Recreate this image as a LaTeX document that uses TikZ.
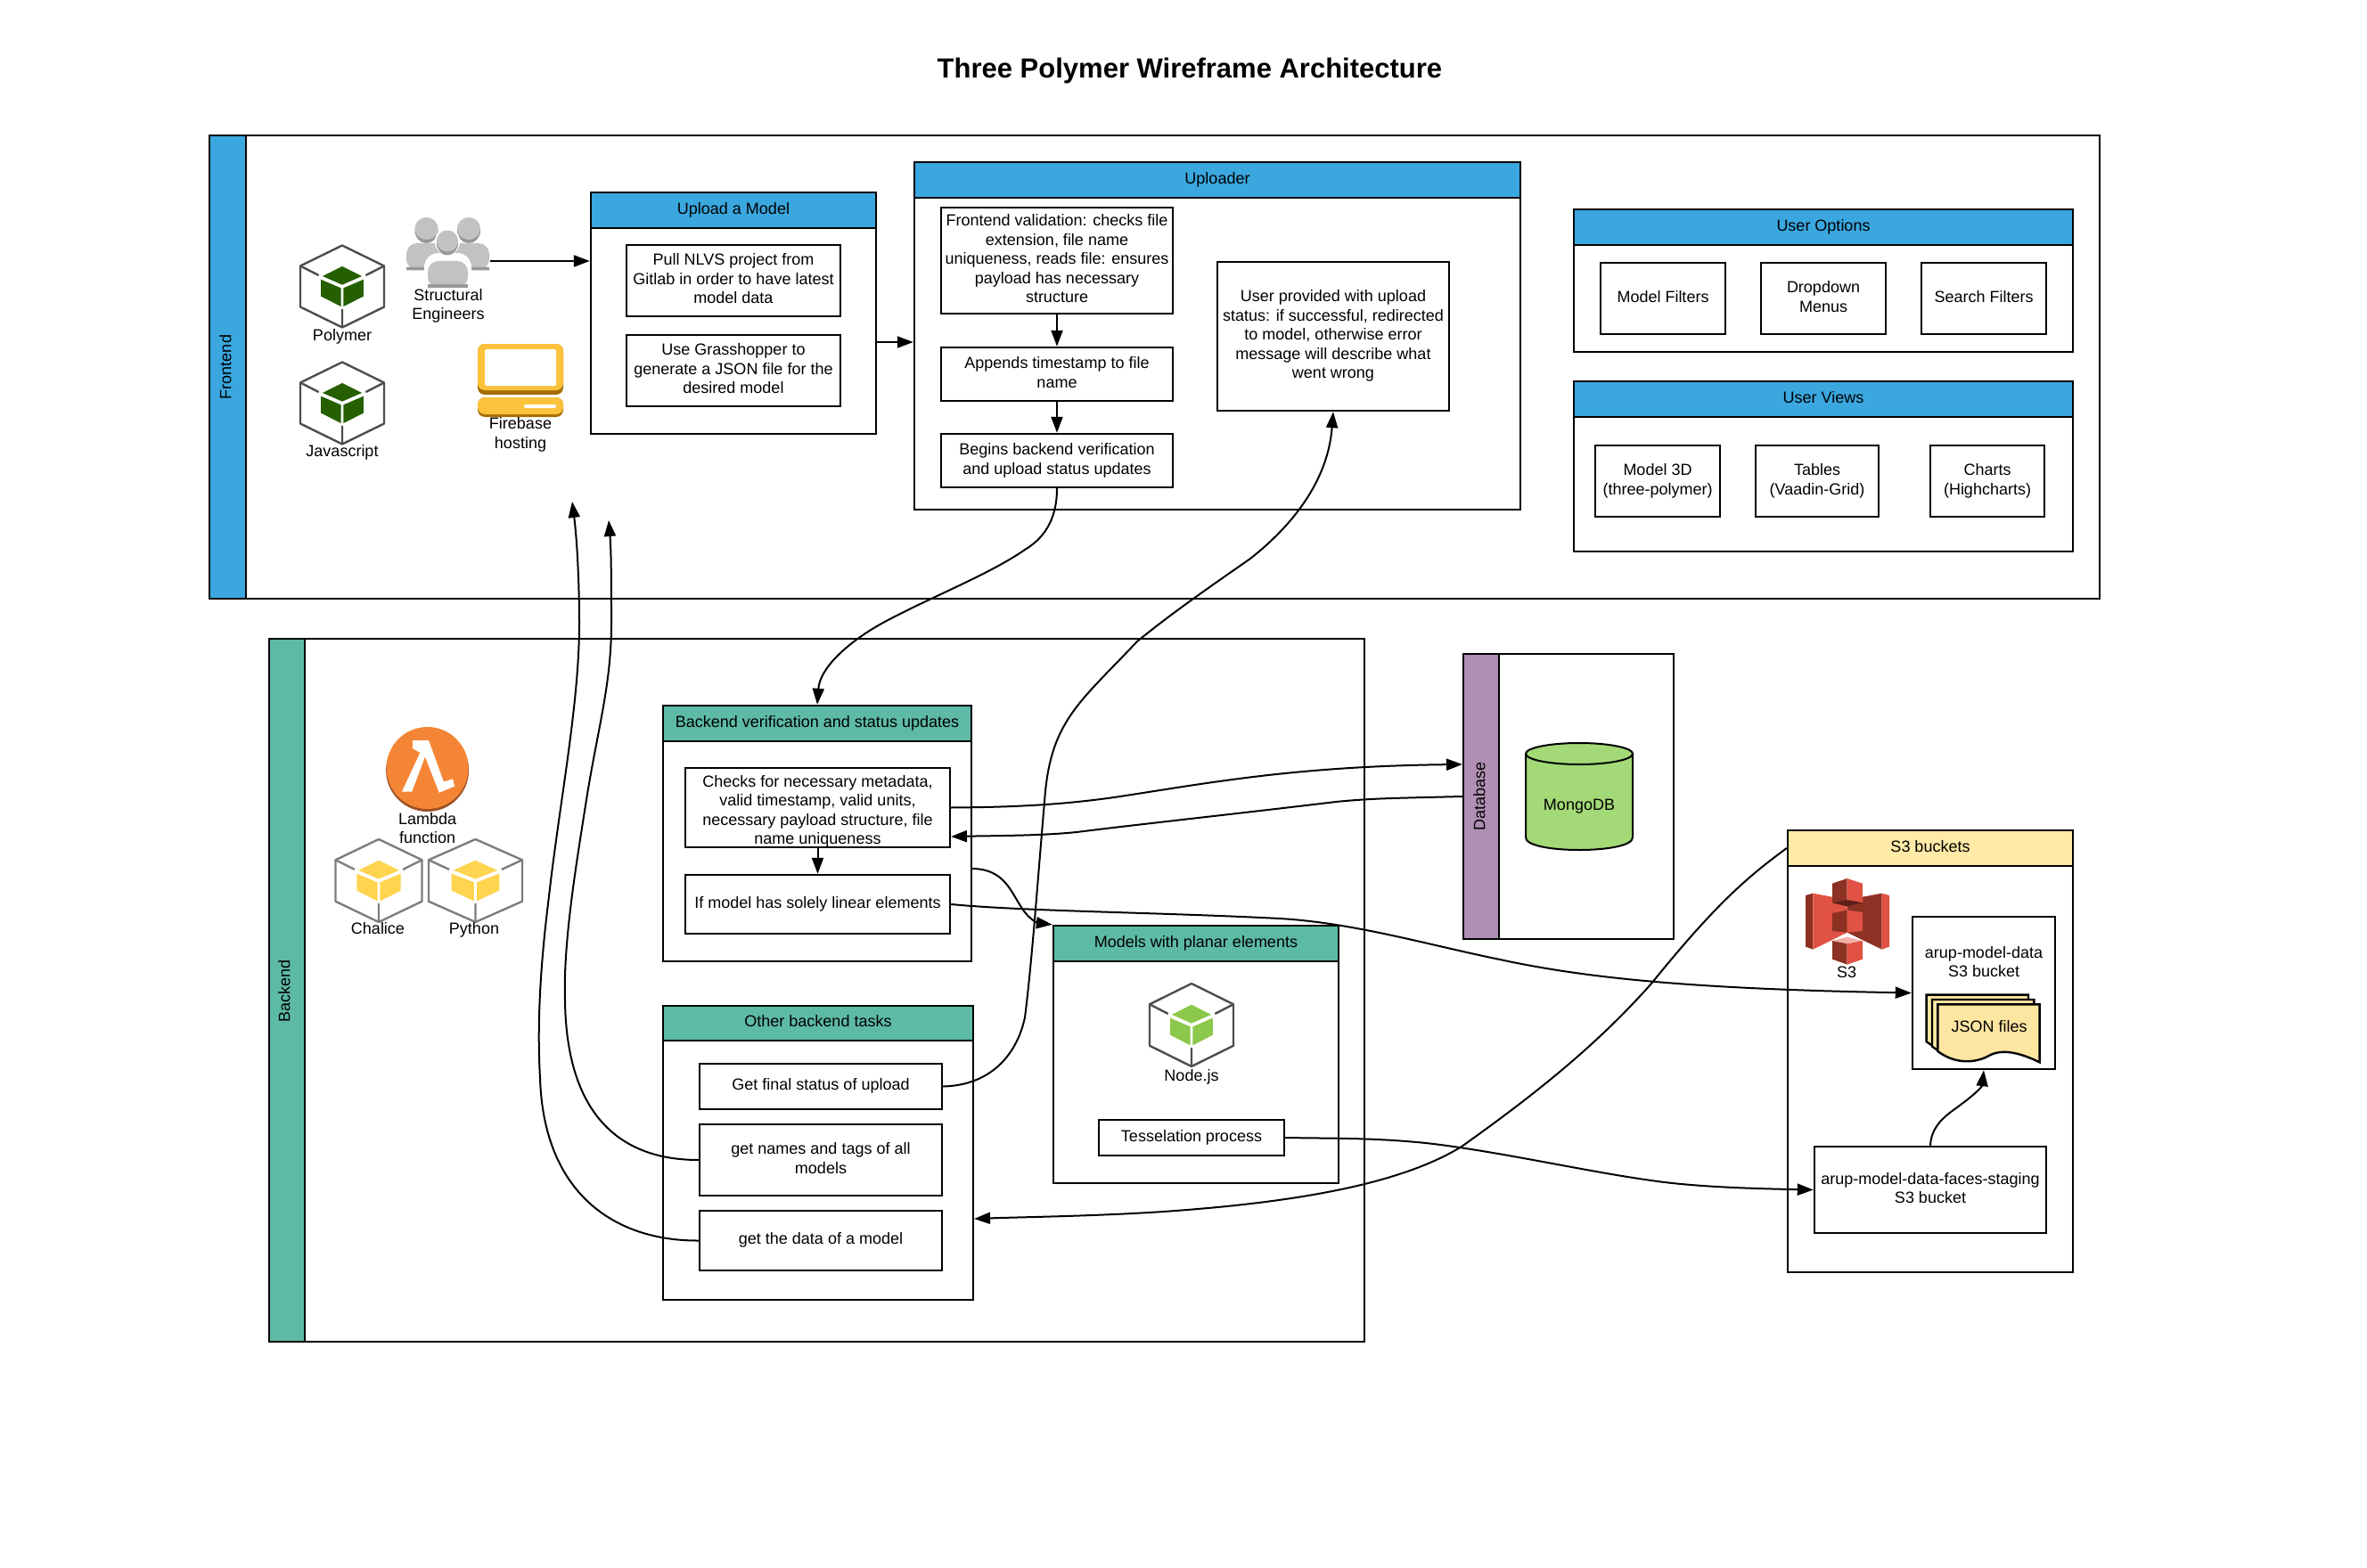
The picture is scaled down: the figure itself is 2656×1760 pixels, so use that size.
\documentclass[tikz,border=0pt]{standalone}
\usepackage{fontspec}
\setmainfont{Liberation Sans}
\usetikzlibrary{arrows.meta}

\definecolor{frontblue}{HTML}{3AA7DF}
\definecolor{backteal}{HTML}{5DBAA6}
\definecolor{dbpurple}{HTML}{B18FB4}
\definecolor{s3yellow}{HTML}{FFEAA7}
\definecolor{jsonyellow}{HTML}{FDE6A2}
\definecolor{mongogreen}{HTML}{A3D977}
\definecolor{polygreen}{HTML}{255F00}
\definecolor{cubeyellow}{HTML}{FFD44F}
\definecolor{nodegreen}{HTML}{8CC84B}
\definecolor{hexdark}{HTML}{4D4D4D}
\definecolor{hexgrey}{HTML}{7D7D7D}
\definecolor{userfill}{HTML}{C0C2C4}
\definecolor{usershade}{HTML}{96989A}
\definecolor{fbyellow}{HTML}{FDC23C}
\definecolor{fbdark}{HTML}{A66E00}
\definecolor{lambdaorange}{HTML}{F58536}
\definecolor{lambdadark}{HTML}{9D5025}
\definecolor{s3red}{HTML}{E05243}
\definecolor{s3dark}{HTML}{8C3123}
\definecolor{s3pale}{HTML}{F2B0A9}
\definecolor{s3deep}{HTML}{5E1F18}

\tikzset{
  textfont/.style={font=\fontsize{9}{10.75}\selectfont},
  panel/.style={draw, line width=1.2pt, inner sep=0pt},
  header/.style={panel, textfont, align=center, text depth=2.2pt},
  strip/.style={panel, textfont},
  box/.style={panel, textfont, align=center, fill=white, text depth=2.2pt},
  caption/.style={textfont, align=center, inner sep=0pt, text depth=2pt},
  link/.style={line width=1pt, -{Triangle[length=9pt,width=6.5pt]}}
}

% cube in a hexagon: x, y, half width, half height, line colour, fill colour
\newcommand{\hexcube}[6]{
  \begin{scope}[shift={(#1,#2)},xscale=#3,yscale=#4]
    \draw[#5, line width=1.2pt, line join=round] (0,-1) -- (1,-.5) -- (1,.5) -- (0,1) -- (-1,.5) -- (-1,-.5) -- cycle;
    \draw[#5, line width=1.2pt] (1,-.5) -- (.56,-.27) (-1,-.5) -- (-.56,-.27) (0,1) -- (0,.55);
    \fill[#6] (0,-.49) -- (.47,-.25) -- (0,-.04) -- (-.47,-.25) -- cycle;
    \fill[#6] (-.51,-.17) -- (-.03,.04) -- (-.03,.49) -- (-.51,.24) -- cycle;
    \fill[#6] (.51,-.17) -- (.03,.04) -- (.03,.49) -- (.51,.24) -- cycle;
  \end{scope}
}

\begin{document}
\begin{tikzpicture}[x=0.5pt, y=-0.5pt]
  \useasboundingbox (0,0) rectangle (2656,1760);

  \node[font=\fontsize{15.5}{19}\selectfont\bfseries, inner sep=0pt] (title) at (1335,79) {Three Polymer Wireframe Architecture};

  % Frontend
  \node[panel, minimum width=1060.5pt, minimum height=260pt] (frontend) at (1295.5,412) {};
  \node[strip, fill=frontblue, minimum width=20.5pt, minimum height=260pt] (frontstrip) at (255.5,412) {};
  \node[textfont, rotate=90, inner sep=0pt] (frontlabel) at (253,412) {Frontend};

  % Upload a Model
  \node[panel, minimum width=160pt, minimum height=135.5pt] (upload) at (823,351.5) {};
  \node[header, fill=frontblue, minimum width=160pt, minimum height=20pt] (uploadhead) at (823,236) {Upload a Model};
  \node[box, minimum width=120pt, minimum height=40pt] (pull) at (823,315) {Pull NLVS project from\\Gitlab in order to have latest\\model data};
  \node[box, minimum width=120pt, minimum height=40pt] (grass) at (823,416) {Use Grasshopper to\\generate a JSON file for the\\desired model};

  % Uploader
  \node[panel, minimum width=340pt, minimum height=195pt] (uploader) at (1366,377) {};
  \node[header, fill=frontblue, minimum width=340pt, minimum height=20pt] (uploaderhead) at (1366,202) {Uploader};
  \node[box, minimum width=130pt, minimum height=59.5pt] (validation) at (1186,292.5) {Frontend validation: checks file\\extension, file name\\uniqueness, reads file: ensures\\payload has necessary\\structure};
  \node[box, minimum width=130pt, minimum height=30pt] (timestamp) at (1186,420) {Appends timestamp to file\\name};
  \node[box, minimum width=130pt, minimum height=30pt] (begins) at (1186,517) {Begins backend verification\\and upload status updates};
  \node[box, minimum width=130pt, minimum height=83.5pt] (status) at (1496,377.5) {User provided with upload\\status: if successful, redirected\\to model, otherwise error\\message will describe what\\went wrong};

  % User Options
  \node[panel, minimum width=280pt, minimum height=80pt] (options) at (2046,315) {};
  \node[header, fill=frontblue, minimum width=280pt, minimum height=20pt] (optionshead) at (2046,255) {User Options};
  \node[box, minimum width=70pt, minimum height=40pt] (filters) at (1866,335) {Model Filters};
  \node[box, minimum width=70pt, minimum height=40pt] (dropdown) at (2046,335) {Dropdown\\Menus};
  \node[box, minimum width=70pt, minimum height=40pt] (search) at (2226,335) {Search Filters};

  % User Views
  \node[panel, minimum width=280pt, minimum height=95.5pt] (views) at (2046,523.5) {};
  \node[header, fill=frontblue, minimum width=280pt, minimum height=20pt] (viewshead) at (2046,448) {User Views};
  \node[box, minimum width=70pt, minimum height=40pt] (model3d) at (1860,540) {Model 3D\\(three-polymer)};
  \node[box, minimum width=69pt, minimum height=40pt] (tables) at (2039,540) {Tables\\(Vaadin-Grid)};
  \node[box, minimum width=64pt, minimum height=40pt] (charts) at (2230,540) {Charts\\(Highcharts)};

  % Iconos del frontend
  \hexcube{384}{321.5}{47}{46}{hexdark}{polygreen}
  \node[caption] (polymer) at (384,378) {Polymer};
  \hexcube{384}{452.5}{47}{46}{hexdark}{polygreen}
  \node[caption] (javascript) at (384,508) {Javascript};

  \foreach \hx in {478.5,526} {
    \fill[usershade] (\hx,259) ellipse [x radius=13, y radius=14];
    \fill[userfill] (\hx,256.5) ellipse [x radius=13, y radius=12.5];
  }
  \fill[userfill, rounded corners=6pt] (456,303) -- (456,273) -- (549,273) -- (549,303) -- cycle;
  \fill[usershade] (456,300) rectangle (490,303.5) (515,300) rectangle (549,303.5);
  \fill[white, rounded corners=8pt] (476,326) -- (476,284) -- (529,284) -- (529,326) -- cycle;
  \fill[userfill, rounded corners=6pt] (480,323) -- (480,293) -- (525,293) -- (525,323) -- cycle;
  \fill[usershade] (480,319) rectangle (525,323);
  \fill[white] (502,271) ellipse [x radius=14, y radius=15.5];
  \fill[usershade] (502,273) ellipse [x radius=12, y radius=13.5];
  \fill[userfill] (502,270.5) ellipse [x radius=12, y radius=12];
  \node[caption] (engineers) at (503,343.5) {Structural\\Engineers};
  \coordinate (usersout) at (550,293);

  \fill[fbdark, rounded corners=4pt] (536,386) rectangle (632,443);
  \fill[fbyellow, rounded corners=4pt] (536,386) rectangle (632,438);
  \fill[white, rounded corners=1pt] (544,392) rectangle (624,433);
  \fill[fbdark, rounded corners=4pt] (536,446) rectangle (632,468);
  \fill[fbyellow, rounded corners=4pt] (536,446) rectangle (632,465);
  \fill[white, rounded corners=1pt] (588,454) rectangle (624,458);
  \node[caption] (firebase) at (584,488) {Firebase\\hosting};

  % Backend
  \node[panel, minimum width=614.5pt, minimum height=394.5pt] (backend) at (916.5,1111.5) {};
  \node[strip, fill=backteal, minimum width=20pt, minimum height=394.5pt] (backstrip) at (322,1111.5) {};
  \node[textfont, rotate=90, inner sep=0pt] (backlabel) at (319,1112) {Backend};

  % Backend verification
  \node[panel, minimum width=173pt, minimum height=143.5pt] (verify) at (917,935.5) {};
  \node[header, fill=backteal, minimum width=173pt, minimum height=20pt] (verifyhead) at (917,812) {Backend verification and status updates};
  \node[box, minimum width=148.5pt, minimum height=44.5pt, text depth=0pt, text height=41pt] (checks) at (917.5,906.5) {Checks for necessary metadata,\\valid timestamp, valid units,\\necessary payload structure, file\\name uniqueness};
  \node[box, minimum width=148.5pt, minimum height=33pt] (linear) at (917.5,1015) {If model has solely linear elements};

  % Other backend tasks
  \node[panel, minimum width=174pt, minimum height=165pt] (other) at (918,1294) {};
  \node[header, fill=backteal, minimum width=174pt, minimum height=19.5pt] (otherhead) at (918,1148.5) {Other backend tasks};
  \node[box, minimum width=136pt, minimum height=25.5pt] (final) at (921,1219.5) {Get final status of upload};
  \node[box, minimum width=136pt, minimum height=40pt] (names) at (921,1302) {get names and tags of all\\models};
  \node[box, minimum width=136pt, minimum height=33.5pt] (data) at (921,1392.5) {get the data of a model};

  % Models with planar elements
  \node[panel, minimum width=160pt, minimum height=144.5pt] (models) at (1342,1183.5) {};
  \node[header, fill=backteal, minimum width=160pt, minimum height=20pt] (modelshead) at (1342,1059) {Models with planar elements};
  \node[box, minimum width=104pt, minimum height=20pt] (tessel) at (1337,1277) {Tesselation process};
  \hexcube{1337}{1150.5}{47}{46.5}{hexdark}{nodegreen}
  \node[caption] (nodejs) at (1337,1209) {Node.js};

  % Iconos del backend
  \fill[lambdadark] (479.6,864.5) circle [radius=46.5];
  \fill[lambdaorange] (479.6,862) circle [radius=46];
  \begin{scope}[shift={(300,700)},scale=.51]
    \fill[white] (320,257) -- (355,257) -- (388,348) -- (408,342) -- (412,358) -- (378,372) -- (347,293) -- (318,370) -- (296,370) -- (336,284) -- (320,275) -- cycle;
  \end{scope}
  \node[caption] (lambda) at (479.6,931.5) {Lambda\\function};
  \hexcube{425}{988.5}{48.5}{46.5}{hexgrey}{cubeyellow}
  \node[caption] (chalice) at (424,1043.5) {Chalice};
  \hexcube{533.5}{988.5}{52.5}{46.5}{hexgrey}{cubeyellow}
  \node[caption] (python) at (532,1043.5) {Python};

  % Database
  \node[panel, minimum width=118pt, minimum height=160pt] (database) at (1760,894) {};
  \node[strip, fill=dbpurple, minimum width=20pt, minimum height=160pt] (dbstrip) at (1662,894) {};
  \node[textfont, rotate=90, inner sep=0pt] (dblabel) at (1660,894) {Database};
  \draw[line width=1pt, fill=mongogreen] (1712,846) -- (1712,940) .. controls (1712,949) and (1740,954) .. (1772,954) .. controls (1804,954) and (1832,949) .. (1832,940) -- (1832,846) -- cycle;
  \draw[line width=1pt, fill=mongogreen] (1772,846) ellipse [x radius=60, y radius=12];
  \node[caption] (mongo) at (1772,905.5) {MongoDB};

  % S3 buckets
  \node[panel, minimum width=160pt, minimum height=248pt] (s3) at (2166,1180) {};
  \node[header, fill=s3yellow, minimum width=160pt, minimum height=20pt] (s3head) at (2166,952) {S3 buckets};
  \begin{scope}[shift={(1980,920)},scale=1/3]
    \fill[s3dark] (138,255) -- (163,248) -- (163,437) -- (138,428) -- cycle;
    \fill[s3red] (163,248) -- (278,270) -- (278,380) -- (163,437) -- cycle;
    \fill[s3dark] (278,270) -- (395,248) -- (395,437) -- (278,380) -- cycle;
    \fill[s3red] (395,248) -- (420,255) -- (420,428) -- (395,437) -- cycle;
    \fill[s3dark] (228,215) -- (278,198) -- (278,290) -- (228,280) -- cycle;
    \fill[s3red] (278,198) -- (330,215) -- (330,280) -- (278,290) -- cycle;
    \fill[s3deep] (228,280) -- (278,270) -- (330,280) -- (278,292) -- cycle;
    \fill[s3dark] (228,315) -- (278,305) -- (278,380) -- (228,375) -- cycle;
    \fill[s3red] (278,305) -- (330,312) -- (330,375) -- (278,380) -- cycle;
    \fill[s3pale] (228,408) -- (278,395) -- (330,408) -- (278,418) -- cycle;
    \fill[s3dark] (228,408) -- (278,418) -- (278,488) -- (228,470) -- cycle;
    \fill[s3red] (278,418) -- (330,408) -- (330,470) -- (278,488) -- cycle;
  \end{scope}
  \node[caption] (s3label) at (2072,1093.5) {S3};
  \node[box, minimum width=80pt, minimum height=85.5pt] (arup) at (2226,1114.5) {};
  \node[caption] (aruplabel) at (2226,1081.5) {arup-model-data\\S3 bucket};
  \begin{scope}[shift={(1980,920)},scale=1/3]
    \foreach \dd in {38,19,0}
      \draw[line width=1.2pt, fill=jsonyellow] (583-\dd,622-\dd*.85) -- (926-\dd,622-\dd*.85) -- (926-\dd,817-\dd*.85) .. controls (860-\dd,785-\dd*.85) and (800-\dd,770-\dd*.85) .. (755-\dd,795-\dd*.85) .. controls (720-\dd,815-\dd*.85) and (650-\dd,830-\dd*.85) .. (583-\dd,780-\dd*.85) -- cycle;
  \end{scope}
  \node[caption] (json) at (2232,1153.5) {JSON files};
  \node[box, minimum width=130pt, minimum height=48.5pt] (staging) at (2166,1335.5) {arup-model-data-faces-staging\\S3 bucket};

  % Puntos de las conexiones
  \coordinate (uploadout) at (983,384);
  \coordinate (dbin) at (1641,858);
  \coordinate (checksin) at (1067,939);
  \coordinate (verifyout) at (1090,975);
  \coordinate (otherin) at (1093,1368);
  \coordinate (namesup) at (683,584);
  \coordinate (dataup) at (642,563);

  % Conexiones
  \draw[link] (usersout) -- (upload.west |- usersout);
  \draw[link] (uploadout) -- (uploader.west |- uploadout);
  \draw[link] (validation) -- (timestamp);
  \draw[link] (timestamp) -- (begins);
  \draw[link] (checks) -- (linear);
  \draw[link] (begins.south) .. controls (1186,585) and (1170,605) .. (1150,617)
    .. controls (1110,645) and (1040,672) .. (989,700)
    .. controls (950,722) and (920,750) .. (verifyhead.north);
  \draw[link] (final.east) .. controls (1115,1218) and (1142,1180) .. (1150,1142)
    .. controls (1158,1080) and (1165,980) .. (1172,900)
    .. controls (1178,810) and (1210,790) .. (1276,720)
    .. controls (1315,688) and (1360,657) .. (1403,627)
    .. controls (1450,590) and (1490,540) .. (status.south);
  \draw[link] (names.west) .. controls (725,1302) and (636,1280) .. (634,1123)
    .. controls (632,1060) and (645,980) .. (657,904)
    .. controls (670,820) and (686,770) .. (686,700)
    .. controls (686,660) and (686,620) .. (namesup);
  \draw[link] (data.west) .. controls (690,1393) and (610,1340) .. (606,1210)
    .. controls (602,1140) and (608,1070) .. (616,1006)
    .. controls (628,900) and (650,790) .. (650,700)
    .. controls (650,660) and (648,610) .. (dataup);
  \draw[link] (checks.east) .. controls (1150,906) and (1200,902) .. (1250,895)
    .. controls (1350,880) and (1450,860) .. (dbin);
  \draw[link] (dbstrip.west) .. controls (1560,896) and (1540,896) .. (1499,900)
    .. controls (1400,912) and (1280,925) .. (1208,934)
    .. controls (1170,938) and (1120,938) .. (checksin);
  \draw[link] (linear.east) .. controls (1150,1023) and (1300,1024) .. (1436,1031)
    .. controls (1520,1036) and (1600,1060) .. (1683,1077)
    .. controls (1780,1098) and (1900,1110) .. (arup.west);
  \draw[link] (verifyout) .. controls (1130,975) and (1135,1005) .. (1150,1024)
    .. controls (1158,1034) and (1165,1036) .. (modelshead.north west);
  \draw[link] (tessel.east) .. controls (1500,1278) and (1540,1277) .. (1600,1283)
    .. controls (1680,1292) and (1780,1315) .. (1853,1325)
    .. controls (1900,1332) and (1960,1334) .. (staging.west);
  \draw[link] (s3head.west) .. controls (1960,985) and (1925,1015) .. (1853,1104)
    .. controls (1790,1175) and (1720,1230) .. (1640,1287)
    .. controls (1570,1330) and (1450,1350) .. (1305,1360)
    .. controls (1230,1365) and (1150,1366) .. (otherin);
  \draw[link] (staging.north) .. controls (2167,1260) and (2190,1248) .. (2200,1240)
    .. controls (2215,1229) and (2224,1220) .. (arup.south);

\end{tikzpicture}
\end{document}
